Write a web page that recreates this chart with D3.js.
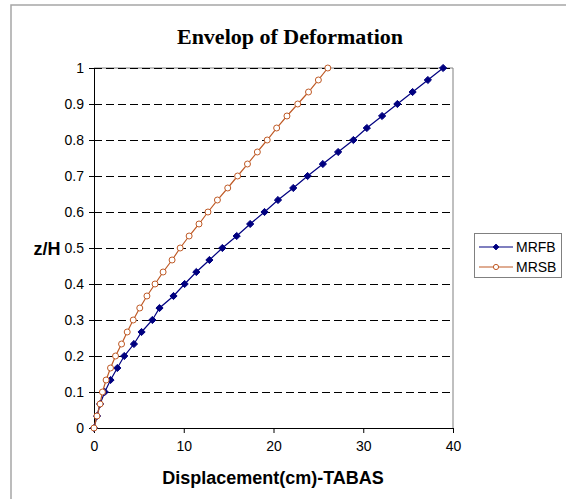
<!DOCTYPE html>
<html>
<head>
<meta charset="utf-8">
<script src="https://cdn.jsdelivr.net/npm/d3@7"></script>
<style>
  html, body { margin: 0; padding: 0; background: #fff; }
  svg { display: block; }
</style>
</head>
<body>
<svg id="chart" width="566" height="499"></svg>
<script>
const zH = [0, 0.0333, 0.0667, 0.1, 0.1333, 0.1667, 0.2, 0.2333, 0.2667, 0.3, 0.3333,
            0.3667, 0.4, 0.4333, 0.4667, 0.5, 0.5333, 0.5667, 0.6, 0.6333, 0.6667,
            0.7, 0.7333, 0.7667, 0.8, 0.8333, 0.8667, 0.9, 0.9333, 0.9667, 1];
const MRFB = [0, 0.34, 0.68, 1.2, 1.84, 2.6, 3.37, 4.45, 5.3, 6.5, 7.3,
              8.86, 10.1, 11.4, 12.86, 14.3, 15.9, 17.4, 19.0, 20.5, 22.2,
              23.8, 25.5, 27.2, 28.9, 30.4, 32.1, 33.8, 35.5, 37.2, 38.9];
const MRSB = [0, 0.33, 0.68, 0.94, 1.35, 1.84, 2.4, 3.07, 3.7, 4.37, 5.1,
              5.9, 6.8, 7.7, 8.7, 9.6, 10.6, 11.7, 12.7, 13.75, 14.9,
              16.0, 17.1, 18.2, 19.3, 20.35, 21.5, 22.7, 23.9, 25.0, 26.05];
const xTicks = [0, 10, 20, 30, 40];
const yTicks = [0, 0.1, 0.2, 0.3, 0.4, 0.5, 0.6, 0.7, 0.8, 0.9, 1];
const seriesNames = ["MRFB", "MRSB"];
const title = "Envelop of Deformation";
const xTitle = "Displacement(cm)-TABAS";
const yTitle = "z/H";

const svg = d3.select("#chart");
const L = 94, R = 453, T = 68, B = 428;
const x = d3.scaleLinear().domain([0, 40]).range([L, R]);
const y = d3.scaleLinear().domain([0, 1]).range([B, T]);

// outer frame
svg.append("rect").attr("x", 11).attr("y", 5).attr("width", 700).attr("height", 700)
  .attr("fill", "none").attr("stroke", "#a6a6a6").attr("stroke-width", 1.5);

// plot border (top/right gray)
svg.append("path").attr("d", `M${L},${T}H${R}V${B}`)
  .attr("fill", "none").attr("stroke", "#808080").attr("stroke-width", 1);

// gridlines
svg.append("g").selectAll("line").data(yTicks.filter(d => d > 0))
  .join("line")
  .attr("x1", L).attr("x2", R)
  .attr("y1", d => Math.round(y(d)) + 0.5).attr("y2", d => Math.round(y(d)) + 0.5)
  .attr("stroke", "#000").attr("stroke-dasharray", "8,4").attr("stroke-width", 1);

// axes
const font = "Arial, 'Liberation Sans', sans-serif";
const xAxis = svg.append("g").attr("transform", `translate(0,${B})`)
  .call(d3.axisBottom(x).tickValues(xTicks).tickSize(5).tickPadding(8).tickFormat(d3.format("d")));
const yAxis = svg.append("g").attr("transform", `translate(${L},0)`)
  .call(d3.axisLeft(y).tickValues(yTicks).tickSize(5).tickPadding(5).tickFormat(d => d === 0 || d === 1 ? d3.format("d")(d) : d3.format(".1f")(d)));
[xAxis, yAxis].forEach(a => {
  a.selectAll("path.domain").attr("stroke", "#000");
  a.selectAll(".tick line").attr("stroke", "#000");
  a.selectAll("text").attr("font-family", font).attr("font-size", 14).attr("fill", "#000");
});

// series
const line = d3.line().x(d => x(d[0])).y(d => y(d[1]));
const dataF = MRFB.map((v, i) => [v, zH[i]]);
const dataS = MRSB.map((v, i) => [v, zH[i]]);
const cF = "#000080", cS = "#BF5A26";

svg.append("path").datum(dataF).attr("d", line).attr("fill", "none").attr("stroke", cF).attr("stroke-width", 1.2);
svg.append("path").datum(dataS).attr("d", line).attr("fill", "none").attr("stroke", cS).attr("stroke-width", 1.2);

const diamondPath = "M0,-3.6L3.6,0L0,3.6L-3.6,0Z";
svg.append("g").selectAll("path").data(dataF).join("path")
  .attr("d", diamondPath).attr("transform", d => `translate(${x(d[0])},${y(d[1])})`)
  .attr("fill", cF).attr("stroke", cF).attr("stroke-width", 1).attr("stroke-linejoin", "round");
svg.append("g").selectAll("circle").data(dataS).join("circle")
  .attr("cx", d => x(d[0])).attr("cy", d => y(d[1])).attr("r", 3)
  .attr("fill", "#fff").attr("stroke", cS).attr("stroke-width", 1);

// titles
svg.append("text").attr("x", 290).attr("y", 44).attr("text-anchor", "middle")
  .attr("font-family", "'Times New Roman', 'Liberation Serif', serif").attr("font-weight", "bold")
  .attr("font-size", 22).text(title);
svg.append("text").attr("x", 273).attr("y", 484).attr("text-anchor", "middle")
  .attr("font-family", font).attr("font-weight", "bold").attr("font-size", 18).text(xTitle);
svg.append("text").attr("x", 47).attr("y", 255).attr("text-anchor", "middle")
  .attr("font-family", font).attr("font-weight", "bold").attr("font-size", 18).text(yTitle);

// legend
const lg = svg.append("g");
lg.append("rect").attr("x", 474.5).attr("y", 233.5).attr("width", 87).attr("height", 44)
  .attr("fill", "#fff").attr("stroke", "#808080").attr("stroke-width", 1);
const legendItems = [
  {name: seriesNames[0], color: cF, type: "diamond", yy: 247},
  {name: seriesNames[1], color: cS, type: "circle", yy: 267}
];
legendItems.forEach(it => {
  lg.append("line").attr("x1", 479).attr("x2", 513).attr("y1", it.yy).attr("y2", it.yy)
    .attr("stroke", it.color).attr("stroke-width", 1.2);
  if (it.type === "diamond") {
    lg.append("path").attr("d", "M0,-3L3,0L0,3L-3,0Z").attr("transform", `translate(496,${it.yy})`)
      .attr("fill", it.color).attr("stroke", it.color).attr("stroke-width", 0.8);
  } else {
    lg.append("circle").attr("cx", 496).attr("cy", it.yy).attr("r", 2.6)
      .attr("fill", "#fff").attr("stroke", it.color);
  }
  lg.append("text").attr("x", 516).attr("y", it.yy + 5).attr("font-family", font)
    .attr("font-size", 14).attr("fill", "#000").text(it.name);
});
</script>
</body>
</html>
